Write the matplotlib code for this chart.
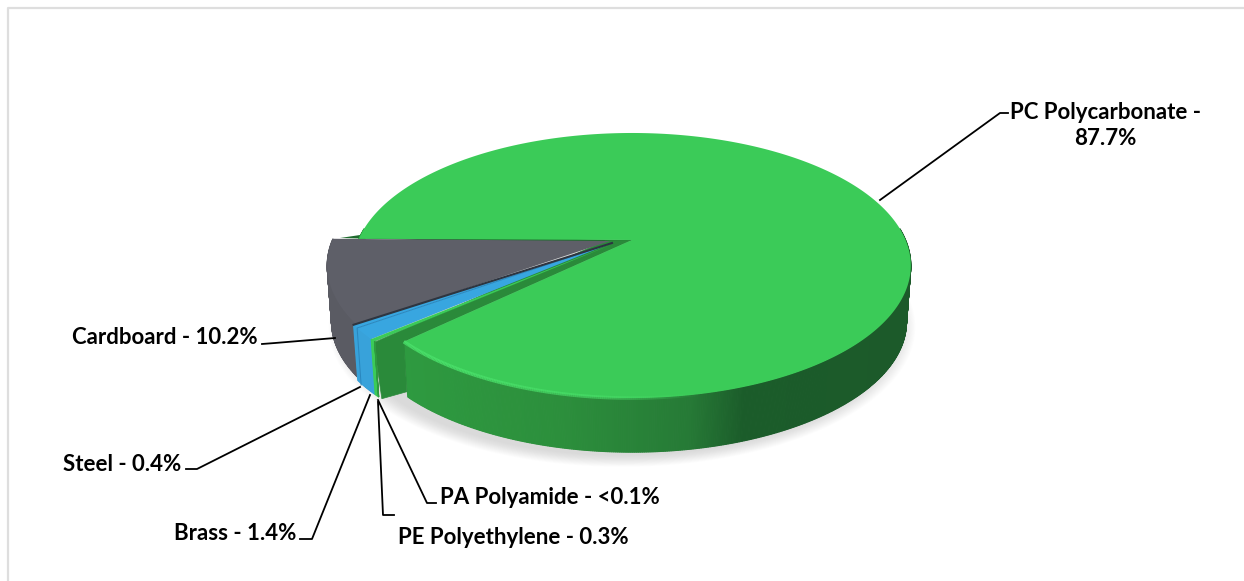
import numpy as np
import matplotlib
matplotlib.use('Agg')
import matplotlib.pyplot as plt
from matplotlib.patches import Polygon
from matplotlib.colors import to_rgb

plt.rcParams['font.family'] = ['Lato', 'DejaVu Sans']

categories = ['Cardboard', 'Steel', 'Brass', 'PE Polyethylene', 'PA Polyamide', 'PC Polycarbonate']
values = [10.2, 0.4, 1.4, 0.3, 0.03, 87.7]
top_colors = ['#5e5f68', '#38a6e0', '#38a6e0', '#3bcb58', '#2e9a40', '#3bcb58']
wall_colors = ['#5a5b63', '#38a2da', '#38a2da', '#3bcb58', '#2e9a40', '#2e9a40']
labels = ['Cardboard - 10.2%', 'Steel - 0.4%', 'Brass - 1.4%', 'PE Polyethylene - 0.3%',
          'PA Polyamide - <0.1%', 'PC Polycarbonate -\n87.7%']

start_angle = 179
a, b, k = 274, 128, 0.185
depth = 57
rim_x = [606, 603, 603, 603, 603, 632]
apex = [(610, 241), (612, 243), (612, 243), (613, 244), (613, 244), (632, 240)]
cy = 241


def project(t, cx, r=1.0):
    # perspective squash of a circle, t in degrees
    t = np.radians(t)
    s = 1 / (1 + k * r * np.sin(t))
    return cx + a * r * np.cos(t) * s, cy - b * r * np.sin(t) * s


def green_wall(x):
    # wall colour along the front
    stops = ['#2e9a40', '#2c8f3c', '#267a36', '#1b5c2a', '#1c5a2a']
    rgb = np.array([to_rgb(c) for c in stops])
    xp = [403, 560, 690, 745, 912]
    return tuple(np.interp(x, xp, rgb[:, n]) for n in range(3))


fig = plt.figure(figsize=(12.44, 5.81), dpi=100)
ax = fig.add_axes([0, 0, 1, 1])
ax.set_xlim(0, 1244)
ax.set_ylim(581, 0)
ax.axis('off')

# frame
ax.plot([8, 8, 1244], [581, 8, 8], color='#dedede', lw=1.6, zorder=1)

# soft shadow
for i in range(14):
    tt = np.linspace(0, 360, 180)
    xs, ys = project(tt, 622, 1.05 - 0.0045 * i)
    ax.add_patch(Polygon(np.c_[xs, ys + depth + 2], fc='#808080', ec='none', alpha=0.018, zorder=2))

sweeps = np.array(values) / sum(values) * 360
angles = start_angle + np.r_[0, np.cumsum(sweeps)]

# dark cut face behind the gray slice
ax.add_patch(Polygon([apex[5], (360, 235), (340, 238), (610, 245)], fc='#1f6b2e', ec='none', zorder=3))

z = 4
for i in [5, 0, 1, 2, 3, 4]:
    t0, t1 = angles[i], angles[i + 1]
    tt = np.linspace(t0, t1, max(int(sweeps[i] * 3), 4))
    xs, ys = project(tt, rim_x[i])
    xb, yb = project(tt, rim_x[i], 0.985)
    # outer wall as strips so the shading can change along the rim
    for j in range(len(tt) - 1):
        if np.sin(np.radians((tt[j] + tt[j + 1]) / 2)) > 0.1:
            continue
        col = green_wall(xs[j]) if i == 5 else wall_colors[i]
        q = [(xs[j], ys[j]), (xs[j + 1], ys[j + 1]), (xb[j + 1], yb[j + 1] + depth), (xb[j], yb[j] + depth)]
        ax.add_patch(Polygon(q, fc=col, ec=col, lw=0.8, zorder=z))
    if i == 5:
        # cut face of the big wedge at the front
        xe, ye = xs[0], ys[0]
        face = [apex[5], (xe, ye), (xe + 3, ye + 50), (xe - 22, ye + 57), (xe - 30, ye + 1), (605, 241)]
        ax.add_patch(Polygon(face, fc='#2a8a3a', ec='#2a8a3a', lw=0.5, joinstyle='round', zorder=z + 1))
    # top face
    top = [apex[i]] + list(zip(xs, ys))
    ax.add_patch(Polygon(top, fc=top_colors[i], ec='none', zorder=z + 2))
    if i == 5:
        # bright bevel along the rim, fading to the right
        for j in range(len(tt) - 1):
            if np.sin(np.radians(tt[j])) > -0.1:
                continue
            al = np.interp(xs[j], [403, 450, 600, 700], [0.9, 0.9, 0.6, 0.0])
            ax.plot(xs[j:j + 2], ys[j:j + 2], color='#4ae06a', lw=2.6, alpha=al, zorder=z + 3,
                    solid_capstyle='butt')
    z += 4

# thin line between the two blue slices, on the top and down the wall
xl, yl = project(angles[2], rim_x[2])
ax.plot([apex[2][0], xl, xl + 4], [apex[2][1], yl, yl + depth], color='#2a86bd', lw=0.7, zorder=z)
# dark line along the gray edge
xd, yd = project(angles[1], rim_x[1])
ax.plot([apex[1][0], xd], [apex[1][1], yd], color='#2e3540', lw=1.5, zorder=z)

# leader lines and labels
leaders = [[(335, 338), (275, 343), (262, 344)],
           [(360, 387), (197, 469), (186, 469)],
           [(370, 395), (312, 539), (300, 539)],
           [(378, 402), (383, 515), (394, 515)],
           [(378, 400), (427, 503), (436, 503)],
           [(880, 200), (1000, 113), (1008, 113)]]
for pts in leaders:
    ax.plot(*zip(*pts), color='black', lw=1.3, zorder=z + 1)

text_pos = [(258, 337.5, 'right'), (181, 464.5, 'right'), (296, 533.5, 'right'),
            (398, 538, 'left'), (440, 498, 'left'), (1105, 125.5, 'center')]
for lab, (x, y, ha) in zip(labels, text_pos):
    ax.text(x, y, lab, ha=ha, va='center', fontsize=16, fontweight='bold', color='black',
            linespacing=1.35, zorder=z + 2)

fig.savefig('out.png', dpi=100)
